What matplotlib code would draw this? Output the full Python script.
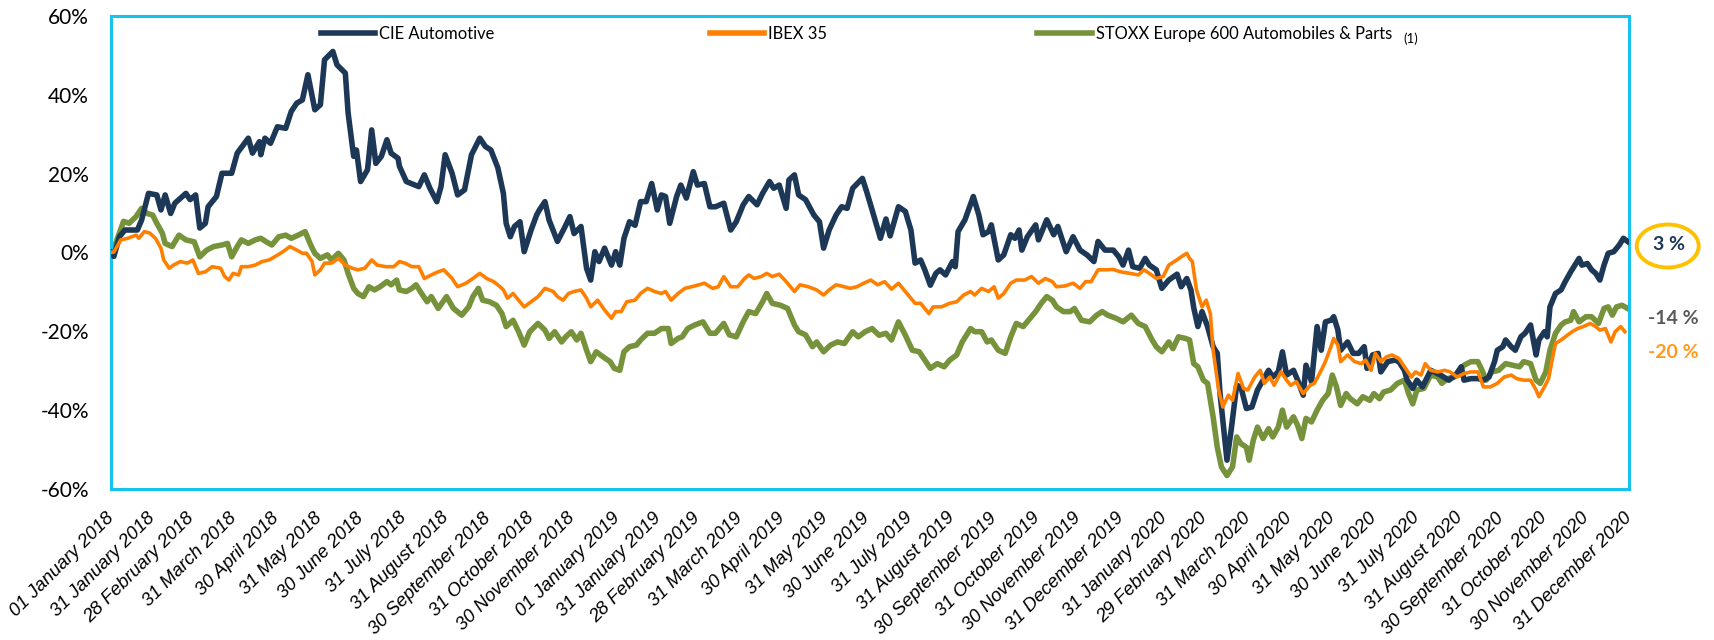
import matplotlib
matplotlib.use("Agg")
import matplotlib.pyplot as plt
from matplotlib.patches import Ellipse
from matplotlib.ticker import FuncFormatter
import pandas as pd

START = "2018-01-01"
END = "2020-12-31"

# series values, in % vs 01 January 2018, keyed by days since START
CIE_DAY = [0, 2, 6, 10, 19, 22, 27, 33, 36, 39, 43, 46, 54, 57, 61, 64, 68, 70, 76, 80,
           87, 91, 99, 102, 107, 108, 111, 115, 120, 126, 130, 134, 138, 142, 147, 151, 154, 160, 163, 169,
           171, 175, 177, 180, 185, 188, 191, 195, 199, 202, 207, 208, 213, 222, 226, 230, 235, 238, 241, 246,
           250, 255, 260, 266, 270, 274, 279, 283, 285, 288, 291, 295, 298, 303, 307, 309, 313, 316, 322, 327,
           331, 334, 339, 343, 346, 349, 352, 356, 361, 364, 367, 370, 374, 378, 382, 386, 390, 394, 397, 400,
           403, 408, 411, 415, 420, 423, 428, 432, 436, 442, 447, 451, 456, 460, 466, 470, 475, 478, 482, 487,
           489, 493, 496, 501, 507, 511, 514, 518, 523, 527, 531, 535, 542, 545, 549, 555, 559, 562, 568, 573,
           577, 580, 584, 587, 591, 595, 598, 602, 607, 609, 611, 616, 622, 626, 629, 633, 635, 640, 644, 649,
           652, 655, 657, 661, 667, 669, 675, 680, 683, 689, 694, 699, 704, 709, 712, 717, 723, 727, 730, 734,
           737, 742, 746, 749, 754, 758, 763, 769, 772, 776, 779, 781, 784, 787, 791, 795, 798, 800, 803, 805,
           808, 812, 815, 819, 823, 827, 831, 835, 838, 842, 845, 848, 853, 856, 860, 862, 866, 870, 873, 876,
           880, 882, 885, 887, 892, 896, 900, 904, 906, 910, 914, 916, 921, 926, 929, 933, 935, 939, 942, 946,
           952, 959, 965, 970, 974, 976, 981, 986, 990, 994, 998, 1000, 1004, 1006, 1010, 1013, 1017, 1020, 1024, 1028,
           1030, 1034, 1036, 1038, 1042, 1046, 1049, 1053, 1056, 1059, 1061, 1065, 1068, 1071, 1074, 1077, 1080, 1084, 1088, 1091,
           1094]
CIE_VAL = [0.0, -1.0, 4.0, 5.7, 5.7, 8.2, 15.0, 14.6, 10.8, 14.6, 9.9, 12.5, 15.0, 13.4, 14.6, 6.2, 7.4, 11.6, 14.2, 20.1,
           20.1, 25.2, 29.0, 25.2, 28.1, 24.8, 29.0, 27.7, 31.9, 31.5, 35.8, 37.9, 38.7, 45.1, 36.2, 37.5, 48.9, 51.0, 47.6, 45.5,
           35.4, 24.4, 26.0, 18.0, 21.0, 31.1, 22.6, 24.4, 28.6, 25.2, 23.9, 21.9, 18.0, 16.7, 19.7, 16.3, 12.9, 16.7, 24.8, 20.1,
           14.6, 15.9, 24.8, 29.0, 26.9, 26.0, 21.5, 15.0, 7.4, 4.0, 6.6, 7.8, 0.2, 5.7, 9.5, 10.8, 12.9, 8.2, 2.8, 6.2,
           9.1, 4.8, 6.6, -4.0, -7.0, 0.2, -2.3, 1.1, -3.2, 0.2, -3.2, 3.6, 7.8, 6.9, 12.9, 12.9, 17.5, 10.8, 14.6, 14.2,
           7.4, 14.2, 17.1, 13.8, 20.5, 17.1, 17.5, 11.6, 11.6, 12.5, 5.7, 7.8, 12.1, 14.2, 12.1, 15.0, 18.0, 16.3, 17.1, 11.2,
           18.4, 19.7, 14.6, 13.4, 9.5, 7.8, 1.1, 5.7, 9.5, 11.6, 11.2, 16.3, 18.8, 15.5, 10.8, 3.6, 8.5, 4.2, 11.6, 10.4,
           5.7, -2.7, -1.9, -4.4, -8.3, -5.3, -4.4, -5.7, -2.3, -3.6, 5.3, 8.3, 14.2, 9.5, 4.5, 5.3, 7.0, -1.9, -0.6, 4.5,
           3.6, 5.7, 0.6, 4.0, 7.0, 3.2, 8.3, 4.5, 6.6, 0.2, 4.0, 0.6, -0.6, -2.3, 2.8, 0.6, 0.6, -1.1, -3.2, 0.6,
           -3.6, -4.0, -1.5, -3.2, -4.4, -9.1, -7.0, -5.5, -8.7, -6.6, -9.5, -14.0, -18.8, -15.0, -18.8, -23.9, -25.6, -35.8, -45.9, -52.7,
           -45.1, -33.7, -34.1, -39.6, -39.2, -34.9, -32.4, -29.9, -31.6, -30.3, -25.2, -31.1, -29.9, -32.4, -36.2, -28.6, -32.8, -18.8, -24.8, -17.6,
           -17.2, -16.3, -19.7, -24.8, -22.7, -25.6, -25.6, -23.9, -29.4, -26.0, -25.6, -30.3, -27.7, -27.3, -27.7, -29.9, -32.4, -34.5, -32.4, -34.1,
           -29.9, -31.1, -32.4, -31.1, -29.0, -32.4, -32.0, -32.0, -32.4, -31.6, -27.7, -24.8, -23.9, -22.2, -23.9, -24.8, -21.4, -20.5, -18.4, -26.0,
           -22.2, -20.1, -21.4, -13.8, -10.4, -9.5, -7.4, -4.9, -3.2, -1.5, -3.2, -2.8, -4.4, -5.3, -7.0, -3.2, -0.2, 0.2, 1.9, 3.6,
           2.8]

IBEX_DAY = [0, 2, 7, 12, 18, 20, 24, 28, 32, 36, 38, 42, 45, 50, 55, 59, 63, 68, 73, 79,
            82, 85, 88, 92, 94, 99, 104, 109, 114, 118, 124, 129, 134, 138, 141, 145, 147, 151, 154, 159,
            164, 169, 174, 178, 183, 188, 192, 198, 204, 208, 212, 217, 222, 226, 231, 236, 240, 246, 250, 256,
            261, 266, 271, 276, 280, 283, 286, 290, 294, 298, 303, 308, 313, 319, 322, 326, 330, 334, 339, 343,
            346, 351, 356, 361, 364, 368, 372, 378, 382, 387, 392, 397, 400, 404, 409, 414, 421, 428, 434, 438,
            442, 447, 452, 457, 460, 464, 469, 473, 477, 482, 487, 493, 497, 503, 509, 514, 518, 523, 529, 533,
            538, 543, 548, 553, 558, 563, 568, 572, 577, 580, 584, 590, 593, 599, 605, 610, 615, 620, 623, 628,
            633, 637, 640, 644, 649, 653, 659, 664, 669, 674, 679, 682, 688, 694, 699, 703, 707, 712, 718, 723,
            728, 735, 741, 745, 749, 754, 759, 763, 767, 772, 776, 778, 780, 783, 787, 790, 793, 795, 799, 802,
            806, 809, 813, 817, 820, 825, 829, 832, 836, 839, 844, 848, 851, 855, 860, 865, 868, 873, 876, 880,
            882, 885, 887, 892, 897, 902, 905, 909, 912, 916, 920, 924, 929, 933, 938, 941, 945, 948, 952, 957,
            962, 966, 971, 976, 981, 986, 990, 995, 1000, 1005, 1010, 1014, 1019, 1024, 1028, 1030, 1034, 1037, 1040, 1042,
            1046, 1049, 1054, 1058, 1062, 1067, 1071, 1074, 1078, 1082, 1085, 1089, 1092]
IBEX_VAL = [0.0, 0.1, 3.2, 3.6, 4.4, 3.6, 5.3, 4.9, 3.6, 1.1, -1.9, -4.0, -3.2, -2.3, -2.7, -1.9, -5.3, -4.9, -3.6, -4.0,
            -6.1, -7.0, -5.3, -5.7, -3.6, -3.6, -3.2, -2.3, -1.9, -1.1, 0.2, 1.5, 0.6, -0.2, -0.2, -2.3, -5.7, -4.4, -2.7, -2.7,
            -1.5, -3.2, -4.0, -4.4, -4.0, -1.9, -3.2, -3.6, -3.6, -2.3, -2.7, -3.6, -3.6, -6.6, -5.7, -4.9, -4.4, -6.6, -8.7, -7.8,
            -6.6, -5.3, -6.6, -7.4, -8.5, -9.5, -11.6, -10.4, -12.1, -13.8, -12.5, -11.2, -9.1, -9.9, -11.2, -12.1, -10.4, -9.9, -9.5, -11.6,
            -13.8, -12.1, -14.6, -16.7, -15.0, -15.0, -12.5, -12.1, -10.4, -9.1, -9.9, -10.4, -9.9, -12.1, -10.4, -9.1, -8.5, -7.8, -9.1, -8.7,
            -6.1, -8.7, -8.7, -6.6, -5.7, -6.6, -6.1, -5.3, -6.1, -5.5, -7.4, -9.9, -8.2, -8.7, -9.5, -10.8, -9.5, -8.2, -8.7, -9.1,
            -8.7, -7.8, -7.0, -8.2, -7.4, -9.3, -7.8, -9.5, -11.6, -12.9, -12.9, -15.5, -13.8, -13.8, -12.9, -12.5, -10.8, -9.9, -10.8, -9.1,
            -9.9, -8.7, -11.6, -10.4, -7.8, -7.0, -7.0, -6.1, -7.8, -6.6, -7.4, -8.7, -8.5, -7.8, -9.1, -7.4, -7.4, -4.4, -4.4, -4.3,
            -4.9, -5.3, -5.7, -4.4, -5.3, -6.6, -6.1, -3.2, -2.3, -1.1, -0.2, -1.5, -2.3, -9.5, -13.8, -12.1, -15.5, -24.8, -34.9, -39.2,
            -36.2, -37.5, -30.7, -34.5, -34.9, -31.6, -29.9, -33.2, -31.6, -33.7, -30.3, -32.4, -33.7, -32.8, -35.8, -33.7, -33.2, -29.9, -27.7, -23.9,
            -21.8, -23.5, -27.7, -26.0, -27.7, -28.2, -27.3, -29.9, -25.6, -27.7, -26.5, -26.0, -26.9, -29.0, -31.6, -30.3, -31.1, -28.2, -29.9, -30.3,
            -29.9, -30.3, -31.6, -30.7, -30.3, -30.3, -34.1, -34.1, -33.2, -31.6, -31.1, -32.0, -32.4, -32.4, -34.9, -36.6, -34.1, -32.0, -26.5, -23.1,
            -22.2, -21.4, -20.1, -19.3, -18.8, -18.0, -18.8, -19.7, -19.3, -22.7, -20.1, -18.8, -20.1]

STOXX_DAY = [0, 2, 6, 9, 13, 18, 22, 26, 30, 33, 37, 39, 44, 49, 54, 60, 64, 69, 74, 80,
             84, 87, 91, 94, 99, 104, 108, 112, 116, 121, 126, 130, 135, 140, 144, 147, 151, 156, 159, 164,
             168, 171, 175, 178, 182, 186, 190, 194, 199, 202, 206, 208, 213, 217, 220, 224, 228, 231, 236, 242,
             247, 253, 258, 261, 265, 268, 273, 278, 282, 285, 290, 294, 298, 302, 308, 313, 316, 320, 325, 328,
             332, 336, 339, 343, 346, 350, 355, 360, 363, 367, 370, 374, 379, 382, 387, 392, 397, 402, 404, 409,
             412, 416, 421, 427, 432, 436, 442, 446, 451, 456, 460, 465, 470, 473, 477, 483, 488, 493, 496, 501,
             506, 509, 514, 519, 524, 529, 535, 539, 544, 549, 554, 559, 563, 568, 573, 578, 583, 587, 591, 596,
             601, 605, 610, 614, 620, 623, 628, 632, 635, 640, 645, 649, 653, 658, 663, 667, 671, 675, 679, 682,
             687, 692, 695, 700, 706, 711, 715, 719, 725, 730, 736, 741, 746, 751, 754, 758, 763, 766, 770, 775,
             778, 781, 784, 788, 791, 795, 798, 801, 805, 809, 812, 815, 819, 821, 824, 827, 831, 835, 838, 842,
             845, 848, 853, 856, 859, 862, 866, 870, 874, 878, 881, 884, 887, 891, 894, 899, 903, 908, 911, 915,
             918, 923, 928, 933, 936, 939, 942, 947, 952, 957, 960, 964, 969, 972, 976, 981, 986, 989, 992, 996,
             1001, 1006, 1011, 1016, 1019, 1024, 1028, 1031, 1035, 1038, 1042, 1046, 1049, 1053, 1055, 1059, 1064, 1068, 1073, 1077,
             1080, 1083, 1086, 1090, 1094]
STOXX_VAL = [0.0, 1.0, 4.9, 7.9, 7.4, 9.1, 11.2, 9.9, 9.5, 7.4, 4.9, 2.3, 1.5, 4.4, 3.2, 2.7, -1.1, 0.6, 1.5, 1.9,
             2.3, -1.1, 1.5, 3.2, 2.3, 3.2, 3.6, 2.7, 1.9, 4.0, 4.4, 3.6, 4.4, 5.3, 1.9, -0.2, -1.5, -0.6, -1.9, -0.2,
             -1.9, -5.3, -9.1, -10.4, -11.2, -8.7, -9.5, -8.7, -7.4, -8.2, -7.0, -9.5, -9.9, -9.1, -8.2, -10.4, -12.5, -11.2, -14.2, -11.2,
             -14.2, -15.9, -13.8, -11.2, -9.1, -12.1, -12.5, -13.4, -15.5, -18.8, -17.2, -20.1, -23.5, -20.1, -18.0, -19.7, -21.8, -20.1, -22.7, -21.4,
             -20.1, -22.2, -20.5, -24.8, -27.7, -25.2, -26.5, -27.7, -29.4, -29.9, -25.2, -23.9, -23.5, -22.2, -20.5, -20.5, -19.3, -19.3, -23.1, -21.8,
             -21.4, -19.3, -18.4, -17.6, -20.5, -20.5, -18.0, -20.9, -21.4, -17.6, -15.0, -15.5, -12.5, -10.4, -12.9, -13.4, -14.2, -18.4, -20.1, -20.9,
             -23.9, -22.7, -25.2, -23.5, -22.7, -23.1, -20.1, -21.4, -20.1, -19.3, -21.0, -20.5, -22.2, -17.6, -21.0, -24.8, -25.2, -27.3, -29.4, -28.2,
             -29.0, -27.3, -26.0, -22.7, -19.3, -20.1, -20.1, -22.7, -22.2, -24.8, -25.6, -21.4, -18.0, -18.8, -16.7, -15.0, -12.9, -11.2, -12.1, -13.8,
             -15.0, -15.0, -14.2, -17.2, -17.6, -15.9, -15.0, -15.9, -16.7, -17.6, -15.9, -18.0, -18.8, -22.2, -23.9, -25.2, -22.7, -24.4, -21.4, -21.8,
             -22.2, -28.2, -29.0, -32.4, -33.2, -41.7, -49.4, -54.4, -56.6, -54.4, -46.8, -48.5, -49.4, -52.7, -47.6, -44.3, -47.2, -44.7, -46.8, -44.3,
             -40.0, -44.3, -41.7, -43.9, -47.2, -42.1, -43.0, -40.0, -37.5, -35.8, -31.1, -34.1, -38.8, -35.8, -37.1, -38.4, -36.6, -37.5, -35.8, -37.1,
             -35.4, -34.9, -33.2, -32.4, -35.8, -38.4, -34.9, -34.5, -31.1, -31.6, -33.2, -32.0, -31.6, -30.3, -28.6, -27.7, -27.7, -29.9, -32.4, -30.3,
             -29.9, -28.2, -28.6, -29.0, -27.7, -28.2, -32.4, -33.2, -30.3, -24.8, -20.5, -18.4, -17.6, -17.2, -15.0, -17.6, -16.3, -16.3, -18.0, -14.2,
             -13.8, -15.9, -13.8, -13.4, -14.2]

TICK_DATES = ["2018-01-01", "2018-01-31", "2018-02-28", "2018-03-31", "2018-04-30", "2018-05-31",
              "2018-06-30", "2018-07-31", "2018-08-31", "2018-09-30", "2018-10-31", "2018-11-30",
              "2019-01-01", "2019-01-31", "2019-02-28", "2019-03-31", "2019-04-30", "2019-05-31",
              "2019-06-30", "2019-07-31", "2019-08-31", "2019-09-30", "2019-10-31", "2019-11-30",
              "2019-12-31", "2020-01-31", "2020-02-29", "2020-03-31", "2020-04-30", "2020-05-31",
              "2020-06-30", "2020-07-31", "2020-08-31", "2020-09-30", "2020-10-31", "2020-11-30",
              "2020-12-31"]

LABELS = ["CIE Automotive", "IBEX 35", "STOXX Europe 600 Automobiles & Parts"]
END_LABELS = ["3 %", "-14 %", "-20 %"]

NAVY = "#1D3857"
ORANGE = "#FF8000"
GREEN = "#76933C"
CYAN = "#16C3EE"

plt.rcParams["font.family"] = ["Lato", "DejaVu Sans"]


def to_dates(days):
    return pd.Timestamp(START) + pd.to_timedelta(days, unit="D")


fig = plt.figure(figsize=(17.14, 6.4), dpi=100)
ax = fig.add_axes([0.0648, 0.236, 0.8856, 0.739])

l_stoxx, = ax.plot(to_dates(STOXX_DAY), STOXX_VAL, color=GREEN, lw=4.0, zorder=2,
                   solid_joinstyle="round")
l_cie, = ax.plot(to_dates(CIE_DAY), CIE_VAL, color=NAVY, lw=4.0, zorder=3,
                 solid_joinstyle="round")
l_ibex, = ax.plot(to_dates(IBEX_DAY), IBEX_VAL, color=ORANGE, lw=2.6, zorder=4,
                  solid_joinstyle="round")

ax.set_xlim(pd.Timestamp(START), pd.Timestamp(END))
ax.set_ylim(-60, 60)
ax.set_yticks(range(-60, 61, 20))
ax.yaxis.set_major_formatter(FuncFormatter(lambda v, _: f"{v:.0f}%"))
ax.tick_params(axis="y", length=0, pad=16, labelsize=15)

# month-end ticks, italic and slanted like the original
ticks = pd.to_datetime(TICK_DATES)
ax.set_xticks(ticks)
ax.set_xticklabels([d.strftime("%d %B %Y") for d in ticks], rotation=45,
                   ha="right", va="center", rotation_mode="anchor",
                   fontsize=13.5, style="italic", family=["Liberation Sans", "DejaVu Sans"])
ax.tick_params(axis="x", length=0, pad=19)

for side in ax.spines.values():
    side.set_color(CYAN)
    side.set_linewidth(2.2)

# legend: three single entries spread across the top of the plot
legend_x = [0.187, 0.414, 0.605]
for line, label, x in zip([l_cie, l_ibex, l_stoxx], LABELS, legend_x):
    leg = fig.legend([line], [label], loc="center left", bbox_to_anchor=(x, 0.947),
                     frameon=False, fontsize=11.9, handlelength=3.3,
                     handletextpad=0.25, borderpad=0, borderaxespad=0)
    for h in leg.get_lines():
        h.set_linewidth(4.0)
fig.text(0.819, 0.939, "(1)", fontsize=9.5, va="center", ha="left")

# end-of-period returns to the right of the plot
fig.text(0.974, 1 - 244 / 640, END_LABELS[0], color=NAVY, fontsize=14,
         fontweight="bold", ha="center", va="center")
fig.add_artist(Ellipse((0.973, 1 - 246 / 640), 62 / 1714, 43 / 640,
                       transform=fig.transFigure, fill=False,
                       edgecolor="#FFC000", lw=2.8))
fig.text(0.976, 1 - 318 / 640, END_LABELS[1], color="#595959", fontsize=14,
         fontweight="bold", ha="center", va="center")
fig.text(0.976, 1 - 352 / 640, END_LABELS[2], color="#FF9A1F", fontsize=14,
         fontweight="bold", ha="center", va="center")

fig.savefig("out.png", dpi=100)
